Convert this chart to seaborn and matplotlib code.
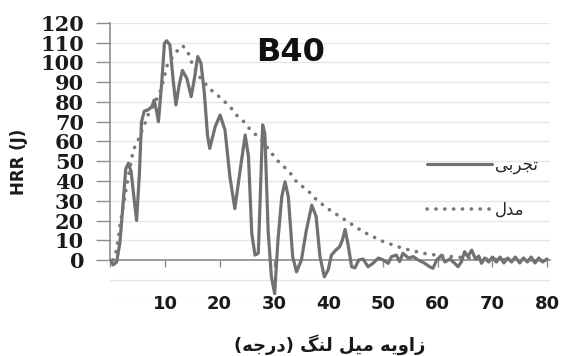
import matplotlib
matplotlib.use("Agg")
import matplotlib.pyplot as plt
import numpy as np
import pandas as pd
import seaborn as sns

# Experimental heat release rate (J) against crank angle (deg)
angle_exp = [0.0, 0.5, 1.15, 1.75, 2.4, 2.8, 3.3, 3.8, 4.4, 4.8, 5.3, 5.7, 6.2, 6.9, 7.6,
             8.0, 8.5, 8.8, 9.4, 9.9, 10.3, 10.9, 11.5, 12.0, 12.6, 13.2, 14.0, 14.8, 15.4,
             16.0, 16.6, 17.2, 17.8, 18.2, 19.2, 20.1, 21.0, 21.9, 22.8, 23.7, 24.7, 25.3,
             25.9, 26.5, 27.1, 27.5, 27.9, 28.3, 28.9, 29.5, 30.1, 30.7, 31.4, 32.0, 32.6,
             33.4, 34.1, 35.0, 35.9, 36.9, 37.7, 38.4, 39.2, 39.9, 40.5, 41.3, 42.0, 42.5,
             43.0, 43.5, 44.2, 44.8, 45.5, 46.3, 47.2, 48.1, 49.1, 50.0, 50.9, 51.5, 52.4,
             53.0, 53.6, 54.6, 55.5, 56.4, 57.5, 58.5, 59.1, 59.8, 60.7, 61.3, 62.2, 63.1,
             63.7, 64.3, 64.9, 65.5, 66.2, 66.9, 67.5, 68.0, 68.6, 69.3, 70.0, 70.7, 71.4,
             72.1, 72.8, 73.5, 74.2, 75.0, 75.7, 76.4, 77.1, 77.8, 78.5, 79.2, 80.0]
hrr_exp = [0.0, -2.5, -1.0, 9.0, 31.0, 46.0, 49.0, 44.7, 29.5, 20.0, 43.0, 70.0, 75.4, 76.0,
           77.6, 81.0, 75.0, 70.0, 89.5, 109.7, 111.0, 108.9, 91.0, 78.5, 88.6, 96.0, 92.0,
           82.7, 92.0, 103.0, 99.6, 85.0, 63.0, 56.5, 67.5, 73.4, 65.8, 42.0, 26.0, 44.0,
           63.3, 52.3, 13.5, 2.5, 3.4, 35.4, 68.4, 64.0, 15.0, -8.5, -17.0, 10.0, 32.0, 39.6,
           32.0, 1.7, -6.0, 0.0, 15.0, 27.8, 22.0, 1.7, -8.5, -5.0, 2.5, 5.0, 6.7, 10.0,
           15.5, 8.6, -3.4, -4.0, 0.0, 0.5, -3.4, -1.7, 1.0, 0.0, -1.7, 1.7, 2.5, -0.8, 3.4,
           1.0, 1.7, 0.0, -1.5, -3.4, -4.2, 0.0, 2.5, -1.0, 0.5, -1.7, -3.4, -1.0, 4.2, 1.7,
           5.0, 0.5, 2.0, -1.7, 1.0, -1.0, 1.5, -1.0, 1.5, -1.5, 1.0, -1.0, 1.5, -1.5, 1.0,
           -1.0, 1.5, -1.5, 1.0, -1.0, 0.5]

# Model heat release rate (J) against crank angle (deg)
angle_model = [0.5, 0.8, 1.15, 1.45, 1.75, 2.1, 2.4, 2.7, 3.0, 3.6, 4.2, 5.1, 6.3, 6.9, 8.2,
               9.1, 9.9, 10.3, 11.2, 12.1, 13.2, 13.8, 14.4, 14.9, 15.6, 16.4, 17.3, 18.5,
               19.8, 21.0, 22.1, 23.1, 24.3, 25.3, 26.5, 27.7, 28.6, 29.7, 30.8, 31.9, 33.1,
               34.1, 35.3, 36.6, 37.5, 39.0, 40.2, 43.0, 46.3, 50.0, 53.6, 57.3, 61.0, 64.6,
               68.3, 72.0, 76.0, 80.0]
hrr_model = [0.0, 1.0, 6.0, 11.0, 17.7, 23.0, 28.0, 33.0, 38.0, 47.0, 55.7, 60.8, 69.0, 73.4,
             80.0, 85.0, 92.8, 98.0, 102.0, 105.5, 108.5, 107.0, 104.0, 100.0, 96.0, 92.5,
             89.5, 86.0, 83.0, 80.0, 77.0, 73.4, 70.5, 67.0, 63.8, 60.7, 57.4, 53.5, 49.8,
             47.0, 43.5, 39.6, 37.0, 34.0, 31.2, 27.8, 25.3, 20.3, 14.3, 9.3, 5.9, 3.4, 2.0,
             1.3, 0.5, 0.2, 0.1, 0.0]

x_ticks = [0, 10, 20, 30, 40, 50, 60, 70, 80]
x_tick_labels = ["", "10", "20", "30", "40", "50", "60", "70", "80"]
y_ticks = [0, 10, 20, 30, 40, 50, 60, 70, 80, 90, 100, 110, 120]
grid_levels = [-20, -10, 10, 20, 30, 40, 50, 60, 70, 80, 90, 100, 110, 120]

label_exp = "تجربی"
label_model = "مدل"
x_label = "زاویه میل لنگ (درجه)"

# Contextual forms of the Persian letters used: isolated, final, initial, medial
FORMS = {
    "ا": ("\uFE8D", "\uFE8E", None, None),
    "ب": ("\uFE8F", "\uFE90", "\uFE91", "\uFE92"),
    "ت": ("\uFE95", "\uFE96", "\uFE97", "\uFE98"),
    "ج": ("\uFE9D", "\uFE9E", "\uFE9F", "\uFEA0"),
    "د": ("\uFEA9", "\uFEAA", None, None),
    "ر": ("\uFEAD", "\uFEAE", None, None),
    "ز": ("\uFEAF", "\uFEB0", None, None),
    "ل": ("\uFEDD", "\uFEDE", "\uFEDF", "\uFEE0"),
    "م": ("\uFEE1", "\uFEE2", "\uFEE3", "\uFEE4"),
    "ن": ("\uFEE5", "\uFEE6", "\uFEE7", "\uFEE8"),
    "ه": ("\uFEE9", "\uFEEA", "\uFEEB", "\uFEEC"),
    "و": ("\uFEED", "\uFEEE", None, None),
    "ی": ("\uFEEF", "\uFEF0", "\uFEF3", "\uFEF4"),
    "گ": ("\uFB92", "\uFB93", "\uFB94", "\uFB95"),
}


def shape(text):
    """Join Persian letters and lay them out right-to-left."""
    out = []
    for i, c in enumerate(text):
        if c not in FORMS:
            out.append(c)
            continue
        prev = text[i - 1] if i > 0 else ""
        nxt = text[i + 1] if i + 1 < len(text) else ""
        join_prev = prev in FORMS and FORMS[prev][2] is not None
        join_next = nxt in FORMS and FORMS[c][2] is not None
        iso, fin, ini, med = FORMS[c]
        if join_prev and join_next:
            out.append(med)
        elif join_prev:
            out.append(fin)
        elif join_next:
            out.append(ini)
        else:
            out.append(iso)
    visual = "".join(reversed(out))
    return visual.translate(str.maketrans("()", ")("))


sns.set_theme(style="white")
plt.rcParams["font.family"] = ["DejaVu Sans"]

fig = plt.figure(figsize=(5.63, 3.56), dpi=100)
ax = fig.add_axes([0.1961, 0.1587, 0.7808, 0.7767])

for g in grid_levels:
    ax.axhline(g, color="#e6e6e6", lw=1.0, zorder=0)

exp_df = pd.DataFrame({"angle": angle_exp, "hrr": hrr_exp})
model_df = pd.DataFrame({"angle": angle_model, "hrr": hrr_model})

sns.lineplot(data=exp_df, x="angle", y="hrr", ax=ax, color="#717171", lw=2.3,
             label=shape(label_exp), zorder=3)
sns.lineplot(data=model_df, x="angle", y="hrr", ax=ax, color="#787878", lw=2.6,
             linestyle=(0, (0.05, 2.4)), dash_capstyle="round",
             label=shape(label_model), zorder=4)

ax.set_xlim(0, 80.55)
ax.set_ylim(-20, 120)

for side in ("top", "right"):
    ax.spines[side].set_visible(False)
ax.spines["left"].set_bounds(0, 120)
ax.spines["left"].set_color("#8c8c8c")
ax.spines["left"].set_linewidth(1.2)
ax.spines["bottom"].set_position(("data", 0))
ax.spines["bottom"].set_color("#8c8c8c")
ax.spines["bottom"].set_linewidth(1.2)

ax.set_xticks(x_ticks, x_tick_labels)
ax.set_yticks(y_ticks, [str(v) for v in y_ticks])
ax.tick_params(axis="y", direction="out", length=10, width=1.0, color="#8c8c8c",
               pad=9, labelsize=15, labelcolor="#1a1a1a", left=True)
ax.tick_params(axis="x", direction="out", length=5, width=1.0, color="#8c8c8c",
               pad=20, labelsize=13, labelcolor="#1a1a1a", bottom=True)
for lbl in ax.get_yticklabels():
    lbl.set_fontfamily("DejaVu Serif")
    lbl.set_fontweight("bold")
for lbl in ax.get_xticklabels():
    lbl.set_fontweight("bold")

ax.set_xlabel("")
ax.set_ylabel("")

fig.text(0.034, 1 - 162 / 356, "HRR (J)", rotation=90, fontsize=12, fontweight="bold",
         ha="center", va="center", color="#1a1a1a")
fig.text(290.7 / 563, 1 - 52.5 / 356, "B40", fontsize=23, fontweight="bold",
         ha="center", va="center", color="#111111")
fig.text(330 / 563, 1 - 345 / 356, shape(x_label), fontsize=13, fontweight="bold",
         ha="center", va="center", color="#1a1a1a")

leg = ax.legend(loc="upper left", bbox_to_anchor=(0.72, 0.52), frameon=False,
                fontsize=12, handlelength=3.9, handletextpad=0.2, labelspacing=1.6,
                borderpad=0, borderaxespad=0)

fig.savefig("out.png", dpi=100)
